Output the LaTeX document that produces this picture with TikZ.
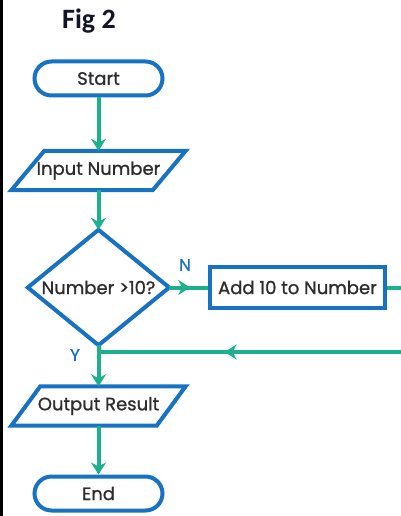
\documentclass[tikz,border=0pt]{standalone}
\usepackage{fontspec}
\setmainfont{Poppins}
\newfontfamily\flowfont[FakeBold=0.9]{Poppins}
\newfontfamily\figfont{Carlito}
\usetikzlibrary{arrows.meta,decorations.markings}
\definecolor{fblue}{RGB}{24,114,196}
\definecolor{fteal}{RGB}{28,176,140}
\definecolor{ftext}{RGB}{45,45,45}
\begin{document}
\begin{tikzpicture}[x=1pt,y=-1pt,
  shapeline/.style={draw=fblue, line width=4pt},
  txt/.style={text=ftext, inner sep=0pt, font=\flowfont\fontsize{18}{18}\selectfont},
  term/.style={txt, shapeline, rounded corners=17pt, minimum width=128pt, minimum height=34pt},
  iobox/.style={txt, minimum width=174pt, minimum height=39pt},
  procbox/.style={txt, shapeline, minimum width=175pt, minimum height=41pt},
  decbox/.style={txt, minimum width=141pt, minimum height=115pt},
  lbl/.style={text=fblue, inner sep=0pt, font=\flowfont\fontsize{17}{17}\selectfont},
  flow/.style={draw=fteal, line width=4pt},
  arr/.style={flow, -{Stealth[length=12pt,width=15pt,inset=4pt]}},
  midarrow/.style={postaction={decorate}, decoration={markings,
     mark=at position #1 with {\arrow[fteal]{Stealth[length=12pt,width=15pt,inset=4pt]}}}}
]
\useasboundingbox (0,0) rectangle (401,516);
\fill[white] (0,0) rectangle (401,516);
\fill[black] (0,0) rectangle (3,516);

\node[anchor=base west, inner sep=0pt, text={rgb,255:red,20;green,20;blue,40}, font=\figfont\bfseries\fontsize{28}{28}\selectfont] (fig) at (62,29) {Fig 2};

\node[term] (start) at (98.5,78.5) {Start};
\node[iobox] (in) at (98.5,170.5) {Input Number};
\draw[shapeline] ([xshift=33pt]in.north west) -- (in.north east) -- ([xshift=-33pt]in.south east) -- (in.south west) -- cycle;
\node[decbox] (dia) at (98.5,287.5) {Number >10?};
\draw[shapeline] (dia.north) -- (dia.east) -- (dia.south) -- (dia.west) -- cycle;
\node[procbox] (box) at (297.5,287.5) {Add 10 to Number};
\node[iobox] (out) at (98.5,406) {Output Result};
\draw[shapeline] ([xshift=29pt]out.north west) -- (out.north east) -- ([xshift=-29pt]out.south east) -- (out.south west) -- cycle;
\node[term] (end) at (98.5,493.5) {End};

\node[lbl] (nlab) at (185,265) {N};
\node[lbl] (ylab) at (75,355) {Y};

\coordinate (r1) at (406,287.5);
\coordinate (r2) at (406,352);
\coordinate (j) at (dia.south |- r2);

\draw[arr] (start.south) -- (in.north);
\draw[arr] (in.south) -- (dia.north);
\draw[flow, midarrow=21pt] (dia.east) -- (box.west);
\draw[flow, midarrow=265pt] (box.east) -- (r1) -- (r2) -- (j);
\draw[arr] (dia.south) -- (out.north);
\draw[arr] (out.south) -- (end.north);
\end{tikzpicture}
\end{document}
